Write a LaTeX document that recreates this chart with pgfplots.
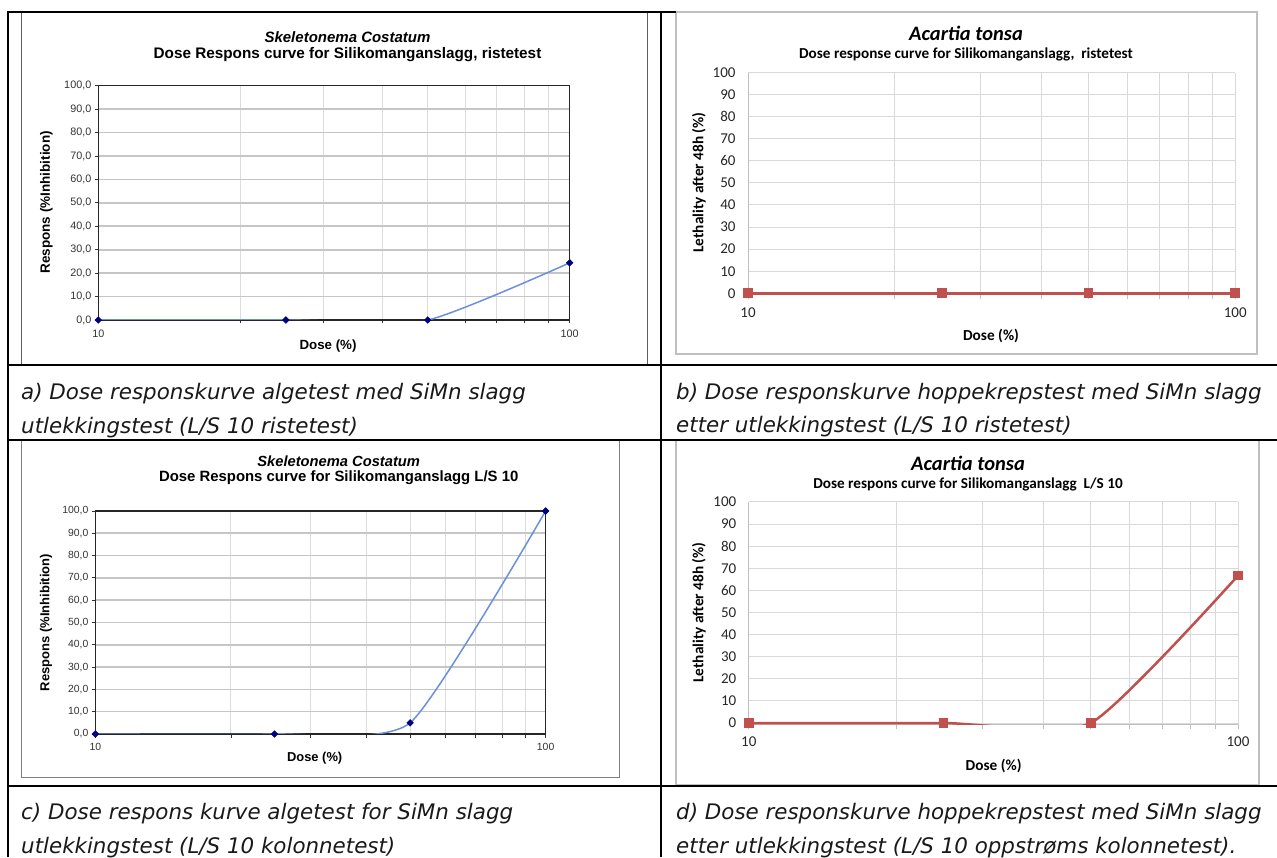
\documentclass[border=0pt]{standalone}
\usepackage{fontspec}
\usepackage{pgfplots}
\pgfplotsset{compat=1.18}
\setmainfont{Liberation Sans}
\newfontfamily\arial{Liberation Sans}
\newfontfamily\calibri{Carlito}
\newfontfamily\verdana{DejaVu Sans}
\newcommand\fs[1]{\fontsize{#1}{#1}\selectfont}
\definecolor{xlblue}{HTML}{6A8FDB}
\definecolor{xlnavy}{HTML}{000080}
\definecolor{xlred}{HTML}{C0504D}
\definecolor{gridA}{HTML}{C6C6C6}
\definecolor{gridB}{HTML}{DCDCDC}
\definecolor{gridC}{HTML}{D9D9D9}
\definecolor{axC}{HTML}{BFBFBF}
\definecolor{frameA}{HTML}{5F5F5F}
\begin{document}
\begin{tikzpicture}[x=1pt,y=1pt]
\path[use as bounding box] (0,0) rectangle (1277,857);
\clip (0,0) rectangle (1277,857);
% chart frames
\draw[frameA, line width=1pt] (21,492) rectangle (647,845);
\draw[axC, line width=1.2pt] (676,503) rectangle (1257,845);
\draw[frameA!80, line width=1pt] (21,80) rectangle (619,417);
\draw[axC, line width=1.2pt] (676,72) rectangle (1259,417);
% table lines
\draw[black, line width=2pt] (8,0) -- (8,845) -- (676,845);
\draw[black, line width=2pt] (661,0) -- (661,845);
\draw[black, line width=2pt] (8,491.5) -- (1277,491.5);
\draw[black, line width=2pt] (8,417) -- (1277,417);
\draw[black, line width=2pt] (8,71) -- (1277,71);

% ---------- chart a ----------
\begin{axis}[at={(98.3pt,537pt)}, anchor=south west, scale only axis,
  width=471.4pt, height=234.3pt,
  xmode=log, xmin=10, xmax=100, ymin=0, ymax=100,
  xtick={10,100}, xticklabels={10,100},
  minor xtick={20,30,40,50,60,70,80,90},
  ytick={0,10,...,100},
  yticklabels={{0,0},{10,0},{20,0},{30,0},{40,0},{50,0},{60,0},{70,0},{80,0},{90,0},{100,0}},
  xminorgrids, ymajorgrids,
  major grid style={draw=gridA, line width=1.6pt},
  minor grid style={draw=gridB, line width=0.9pt},
  axis line style={draw=black!85, line width=1.3pt},
  tick style={draw=black!80, line width=0.8pt},
  tick pos=left, tick align=outside,
  major tick length=3.5pt, minor tick length=3.5pt,
  tick label style={font=\arial\fs{10.8pt}, text=black!80},
  xticklabel style={yshift=-2.5pt}]
\addplot[xlblue, line width=1.5pt, smooth, tension=0.333, mark=square*, mark size=2.4pt,
  mark options={rotate=45, fill=xlnavy, draw=xlnavy, line width=0.4pt}]
  coordinates {(10,0) (25,0) (50,0) (100,24.4)};
\end{axis}
\node[font=\arial\bfseries\itshape\fs{15pt}, anchor=base] at (347.5,814.5) {Skeletonema Costatum};
\node[font=\arial\bfseries\fs{15.3pt}, anchor=base] at (347.5,798) {Dose Respons curve for Silikomanganslagg, ristetest};
\node[font=\arial\bfseries\fs{13.5pt}, rotate=90] at (46.5,654.5) {Respons (\%Inhibition)};
\node[font=\arial\bfseries\fs{13.3pt}] at (328,511) {Dose (\%)};

% ---------- chart b ----------
\begin{axis}[at={(748pt,562.2pt)}, anchor=south west, scale only axis,
  width=487.2pt, height=222.2pt,
  xmode=log, xmin=10, xmax=100, ymin=-0.7, ymax=100,
  xtick={10,100}, xticklabels={10,100},
  minor xtick={20,30,40,50,60,70,80,90},
  ytick={0,10,...,100},
  xmajorgrids, xminorgrids, ymajorgrids,
  major grid style={draw=gridC, line width=1pt},
  minor grid style={draw=gridC, line width=1pt},
  axis x line*=bottom, axis y line*=left,
  axis line style={draw=axC, line width=1pt, -},
  tick pos=left, tick align=outside,
  major tick length=4pt, minor tick length=4pt,
  xtick style={draw=axC, line width=1pt}, ytick style={draw=none},
  /pgf/number format/assume math mode=true,
  tick label style={font=\calibri\fs{15pt}, text=black!85},
  yticklabel style={xshift=-5pt},
  xticklabel style={yshift=-5pt}]
\addplot[xlred, line width=2.5pt, smooth, tension=0.333, mark=square*, mark size=4.3pt,
  mark options={fill=xlred, draw=xlred, line width=0pt}]
  coordinates {(10,0) (25,0) (50,0) (100,0)};
\end{axis}
\node[font=\calibri\bfseries\itshape\fs{20.5pt}, anchor=base] at (966,816.3) {Acartia tonsa};
\node[font=\calibri\bfseries\fs{15.2pt}, anchor=base] at (966,798) {Dose response curve for Silikomanganslagg,\ \ ristetest};
\node[font=\calibri\bfseries\fs{15.3pt}, rotate=90] at (699,674.5) {Lethality after 48h (\%)};
\node[font=\calibri\bfseries\fs{15.3pt}] at (991,521) {Dose (\%)};

% ---------- chart c ----------
\begin{axis}[at={(95.4pt,123pt)}, anchor=south west, scale only axis,
  width=450.2pt, height=223pt,
  xmode=log, xmin=10, xmax=100, ymin=0, ymax=100,
  xtick={10,100}, xticklabels={10,100},
  minor xtick={20,30,40,50,60,70,80,90},
  ytick={0,10,...,100},
  yticklabels={{0,0},{10,0},{20,0},{30,0},{40,0},{50,0},{60,0},{70,0},{80,0},{90,0},{100,0}},
  xminorgrids, ymajorgrids,
  major grid style={draw=gridA, line width=1.6pt},
  minor grid style={draw=gridB, line width=0.9pt},
  axis line style={draw=black!85, line width=1.3pt},
  tick style={draw=black!80, line width=0.8pt},
  tick pos=left, tick align=outside,
  major tick length=3.5pt, minor tick length=3.5pt,
  tick label style={font=\arial\fs{10.4pt}, text=black!80},
  xticklabel style={yshift=-2.5pt}]
\addplot[xlblue, line width=1.5pt, smooth, tension=0.333, mark=square*, mark size=2.4pt,
  mark options={rotate=45, fill=xlnavy, draw=xlnavy, line width=0.4pt}]
  coordinates {(10,0) (25,0) (50,5) (100,100)};
\end{axis}
\node[font=\arial\bfseries\itshape\fs{14.7pt}, anchor=base] at (338.7,390) {Skeletonema Costatum};
\node[font=\arial\bfseries\fs{14.9pt}, anchor=base] at (338.7,375) {Dose Respons curve for Silikomanganslagg L/S 10};
\node[font=\arial\bfseries\fs{13pt}, rotate=90] at (46,234.5) {Respons (\%Inhibition)};
\node[font=\arial\bfseries\fs{12.9pt}] at (314.7,98.5) {Dose (\%)};

% ---------- chart d ----------
\begin{axis}[at={(748.8pt,132.45pt)}, anchor=south west, scale only axis,
  width=489.2pt, height=222.55pt,
  xmode=log, xmin=10, xmax=100, ymin=-0.7, ymax=100,
  xtick={10,100}, xticklabels={10,100},
  minor xtick={20,30,40,50,60,70,80,90},
  ytick={0,10,...,100},
  xmajorgrids, xminorgrids, ymajorgrids,
  major grid style={draw=gridC, line width=1pt},
  minor grid style={draw=gridC, line width=1pt},
  axis x line*=bottom, axis y line*=left,
  axis line style={draw=axC, line width=1pt, -},
  tick pos=left, tick align=outside,
  major tick length=4pt, minor tick length=4pt,
  xtick style={draw=axC, line width=1pt}, ytick style={draw=none},
  /pgf/number format/assume math mode=true,
  tick label style={font=\calibri\fs{15pt}, text=black!85},
  yticklabel style={xshift=-5pt},
  xticklabel style={yshift=-5pt}]
\addplot[xlred, line width=2.5pt, smooth, tension=0.333, mark=square*, mark size=4.3pt,
  mark options={fill=xlred, draw=xlred, line width=0pt}]
  coordinates {(10,0) (25,0) (50,0) (100,66.7)};
\end{axis}
\node[font=\calibri\bfseries\itshape\fs{20.5pt}, anchor=base] at (968,386.5) {Acartia tonsa};
\node[font=\calibri\bfseries\fs{15.2pt}, anchor=base] at (968,368.5) {Dose respons curve for Silikomanganslagg\ \ L/S 10};
\node[font=\calibri\bfseries\fs{15.3pt}, rotate=90] at (699,244.5) {Lethality after 48h (\%)};
\node[font=\calibri\bfseries\fs{15.3pt}] at (993.6,91) {Dose (\%)};

% ---------- captions ----------
\begin{scope}[every node/.style={font=\verdana\itshape\fs{21.4pt}, anchor=base west, inner sep=0pt, text=black!90}]
\node at (21,457) {a) Dose responskurve algetest med SiMn slagg};
\node at (21,423.7) {utlekkingstest (L/S 10 ristetest)};
\node at (676,457) {b) Dose responskurve hoppekrepstest med SiMn slagg};
\node at (676,424) {etter utlekkingstest (L/S 10 ristetest)};
\node at (21,37.7) {c) Dose respons kurve algetest for SiMn slagg};
\node at (21,3.7) {utlekkingstest (L/S 10 kolonnetest)};
\node at (676,38) {d) Dose responskurve hoppekrepstest med SiMn slagg};
\node at (676,4) {etter utlekkingstest (L/S 10 oppstrøms kolonnetest).};
\end{scope}
\end{tikzpicture}
\end{document}
